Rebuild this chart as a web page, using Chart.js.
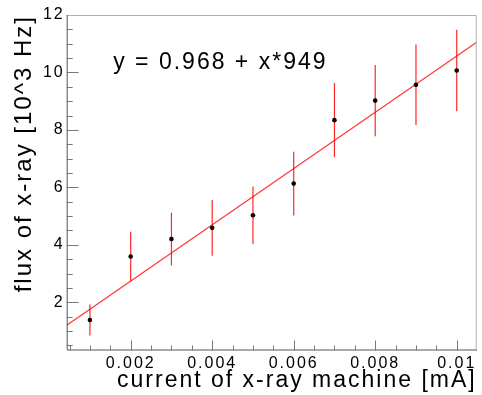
<!DOCTYPE html>
<html>
<head>
<meta charset="utf-8">
<script src="https://cdn.jsdelivr.net/npm/chart.js@4.4.1/dist/chart.umd.min.js"></script>
<style>
  html, body { margin: 0; padding: 0; background: #fff; }
  #chart { display: block; }
</style>
</head>
<body>
<canvas id="chart" width="482" height="395"></canvas>
<script>
// measured points (current in mA, flux in 10^3 Hz)
const currents = [0.001, 0.002, 0.003, 0.004, 0.005, 0.006, 0.007, 0.008, 0.009, 0.010];
const fluxes = [1.38, 3.59, 4.20, 4.59, 5.03, 6.13, 8.34, 9.02, 9.57, 10.07];
const fluxErrors = [0.54, 0.86, 0.92, 0.97, 1.00, 1.11, 1.29, 1.24, 1.40, 1.42];

// fit line end points
const fitX = [0.00043, 0.01049];
const fitY = [1.20, 11.05];
const fitLabel = 'y = 0.968 + x*949';

// axis ranges
const xMin = 0.00043, xMax = 0.01049;
const yMin = 0.32, yMax = 12;

const FONT = "'Liberation Sans', Arial, sans-serif";

// ROOT spreads its glyphs a little, so widen the spacing for all text
const spacingPlugin = {
    id: 'spacing',
    beforeDraw(chart) {
        chart.ctx.letterSpacing = '2px';
    }
};

// draws the error bars through the scales
const errorBarPlugin = {
    id: 'errorBars',
    beforeDatasetsDraw(chart) {
        const { ctx, scales: { x, y } } = chart;
        ctx.save();
        ctx.strokeStyle = 'rgba(255,0,0,0.85)';
        ctx.lineWidth = 1.2;
        currents.forEach((c, i) => {
            const px = x.getPixelForValue(c);
            ctx.beginPath();
            ctx.moveTo(px, y.getPixelForValue(fluxes[i] + fluxErrors[i]));
            ctx.lineTo(px, y.getPixelForValue(fluxes[i] - fluxErrors[i]));
            ctx.stroke();
        });
        ctx.restore();
    }
};

// ROOT-like frame with ticks pointing inside
const framePlugin = {
    id: 'frame',
    afterDraw(chart) {
        const { ctx, chartArea: a, scales: { x, y } } = chart;
        ctx.save();
        ctx.lineWidth = 1;

        ctx.strokeStyle = '#b0b0b0';
        ctx.beginPath();
        ctx.moveTo(a.left, a.top + 0.5);
        ctx.lineTo(a.right - 0.5, a.top + 0.5);
        ctx.lineTo(a.right - 0.5, a.bottom);
        ctx.stroke();

        ctx.strokeStyle = '#555';
        ctx.beginPath();
        ctx.moveTo(a.left + 0.5, a.top);
        ctx.lineTo(a.left + 0.5, a.bottom - 0.5);
        ctx.lineTo(a.right, a.bottom - 0.5);
        ctx.stroke();

        ctx.strokeStyle = '#777';
        ctx.beginPath();
        for (let k = 1; k <= 21; k++) {
            const v = k * 0.0005;
            if (v <= xMin || v >= xMax) continue;
            const px = Math.round(x.getPixelForValue(v)) + 0.5;
            const len = k % 4 === 0 ? 10 : 5;
            ctx.moveTo(px, a.bottom);
            ctx.lineTo(px, a.bottom - len);
        }
        for (let k = 1; k <= 24; k++) {
            const v = k * 0.5;
            if (v <= yMin || v >= yMax) continue;
            const py = Math.round(y.getPixelForValue(v)) + 0.5;
            const len = k % 4 === 0 ? 12 : 6;
            ctx.moveTo(a.left, py);
            ctx.lineTo(a.left + len, py);
        }
        ctx.stroke();

        ctx.fillStyle = '#000';
        ctx.font = '23px ' + FONT;
        ctx.textAlign = 'left';
        ctx.textBaseline = 'alphabetic';
        ctx.fillText(fitLabel, a.left + 46.5, a.top + 53.5);
        ctx.restore();
    }
};

const ctx = document.getElementById('chart').getContext('2d');
new Chart(ctx, {
    type: 'scatter',
    data: {
        datasets: [
            {
                label: 'data',
                data: currents.map((c, i) => ({ x: c, y: fluxes[i] })),
                pointRadius: 2.3,
                pointBackgroundColor: '#000',
                pointBorderWidth: 0,
                showLine: false
            },
            {
                label: 'fit',
                data: fitX.map((v, i) => ({ x: v, y: fitY[i] })),
                showLine: true,
                pointRadius: 0,
                borderColor: 'rgba(255,0,0,0.8)',
                borderWidth: 1.2
            }
        ]
    },
    options: {
        responsive: false,
        animation: false,
        devicePixelRatio: 1,
        layout: { padding: { left: 0, right: 5.3, top: 15, bottom: 0 } },
        plugins: {
            legend: { display: false },
            tooltip: { enabled: false }
        },
        scales: {
            x: {
                type: 'linear',
                min: xMin,
                max: xMax,
                border: { display: false },
                grid: { display: false, drawTicks: false },
                ticks: {
                    stepSize: 0.002,
                    includeBounds: false,
                    padding: 3,
                    color: '#000',
                    font: { family: FONT, size: 16 },
                    maxRotation: 0,
                    callback: v => parseFloat(v.toFixed(4)).toString()
                },
                title: {
                    display: true,
                    text: 'current of x-ray machine [mA]',
                    align: 'end',
                    color: '#000',
                    font: { family: FONT, size: 23, lineHeight: 1.2 },
                    padding: { top: 0, bottom: 1 }
                },
                afterFit(scale) { scale.height = 44.5; }
            },
            y: {
                type: 'linear',
                min: yMin,
                max: yMax,
                border: { display: false },
                grid: { display: false, drawTicks: false },
                ticks: {
                    stepSize: 2,
                    includeBounds: false,
                    padding: 2,
                    color: '#000',
                    font: { family: FONT, size: 16 }
                },
                title: {
                    display: true,
                    text: 'flux of x-ray [10^3 Hz]',
                    align: 'end',
                    color: '#000',
                    font: { family: FONT, size: 24, lineHeight: 1.2 },
                    padding: { top: 10, bottom: 0 }
                },
                afterFit(scale) { scale.width = 66.7; }
            }
        }
    },
    plugins: [spacingPlugin, errorBarPlugin, framePlugin]
});
</script>
</body>
</html>
